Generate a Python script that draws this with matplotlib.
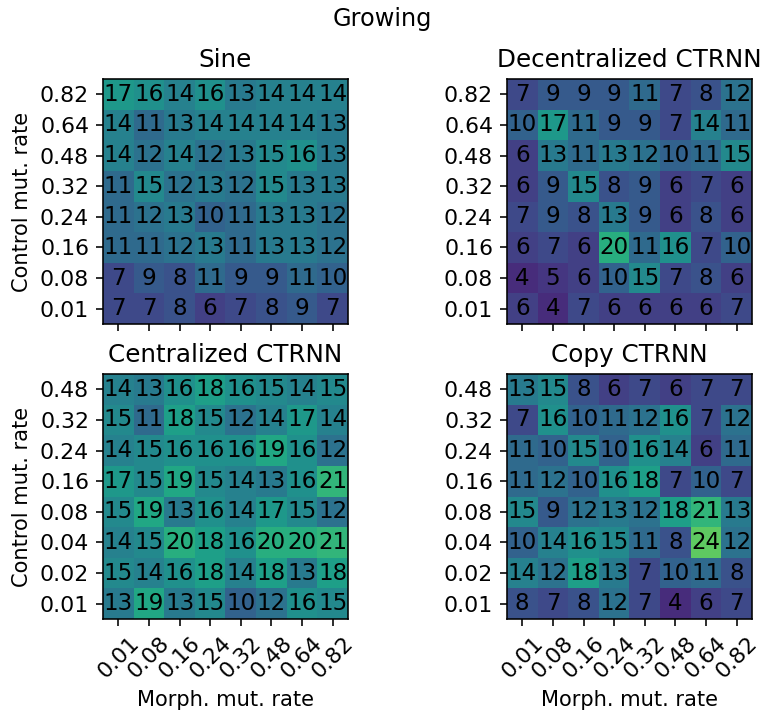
"""Growing: mutation-rate heatmaps for four controller types."""

import matplotlib

matplotlib.use("Agg")
import matplotlib.pyplot as plt
import numpy as np

MORPH_RATES = ["0.01", "0.08", "0.16", "0.24", "0.32", "0.48", "0.64", "0.82"]
CONTROL_RATES_TOP = ["0.01", "0.08", "0.16", "0.24", "0.32", "0.48", "0.64", "0.82"]
CONTROL_RATES_BOTTOM = ["0.01", "0.02", "0.04", "0.08", "0.16", "0.24", "0.32", "0.48"]

# rows listed top to bottom as displayed (highest control rate first)
SINE = [
    [17, 16, 14, 16, 13, 14, 14, 14],
    [14, 11, 13, 14, 14, 14, 14, 13],
    [14, 12, 14, 12, 13, 15, 16, 13],
    [11, 15, 12, 13, 12, 15, 13, 13],
    [11, 12, 13, 10, 11, 13, 13, 12],
    [11, 11, 12, 13, 11, 13, 13, 12],
    [7, 9, 8, 11, 9, 9, 11, 10],
    [7, 7, 8, 6, 7, 8, 9, 7],
]
DECENTRALIZED = [
    [7, 9, 9, 9, 11, 7, 8, 12],
    [10, 17, 11, 9, 9, 7, 14, 11],
    [6, 13, 11, 13, 12, 10, 11, 15],
    [6, 9, 15, 8, 9, 6, 7, 6],
    [7, 9, 8, 13, 9, 6, 8, 6],
    [6, 7, 6, 20, 11, 16, 7, 10],
    [4, 5, 6, 10, 15, 7, 8, 6],
    [6, 4, 7, 6, 6, 6, 6, 7],
]
CENTRALIZED = [
    [14, 13, 16, 18, 16, 15, 14, 15],
    [15, 11, 18, 15, 12, 14, 17, 14],
    [14, 15, 16, 16, 16, 19, 16, 12],
    [17, 15, 19, 15, 14, 13, 16, 21],
    [15, 19, 13, 16, 14, 17, 15, 12],
    [14, 15, 20, 18, 16, 20, 20, 21],
    [15, 14, 16, 18, 14, 18, 13, 18],
    [13, 19, 13, 15, 10, 12, 16, 15],
]
COPY = [
    [13, 15, 8, 6, 7, 6, 7, 7],
    [7, 16, 10, 11, 12, 16, 7, 12],
    [11, 10, 15, 10, 16, 14, 6, 11],
    [11, 12, 10, 16, 18, 7, 10, 7],
    [15, 9, 12, 13, 12, 18, 21, 13],
    [10, 14, 16, 15, 11, 8, 24, 12],
    [14, 12, 18, 13, 7, 10, 11, 8],
    [8, 7, 8, 12, 7, 4, 6, 7],
]

VMIN, VMAX = 0, 32
W, H, DPI = 765, 713, 144
TICK_FS = 11
CELL_FS = 11.5
TITLE_FS = 12.3
LABEL_FS = 10.5


def _panel(fig, rect, data, title, ylabels, show_x, show_ylabel):
    ax = fig.add_axes(rect)
    grid = np.flipud(np.array(data))
    ax.imshow(grid, cmap="viridis", vmin=VMIN, vmax=VMAX, origin="lower", aspect="auto")
    for i in range(grid.shape[0]):
        for j in range(grid.shape[1]):
            ax.text(j, i, str(grid[i, j]), ha="center", va="center",
                    color="black", fontsize=CELL_FS)
    ax.set_xticks(range(len(MORPH_RATES)))
    ax.set_yticks(range(len(ylabels)))
    ax.set_yticklabels(ylabels)
    ax.tick_params(labelsize=TICK_FS)
    if show_x:
        ax.set_xticklabels(MORPH_RATES, rotation=45)
        ax.set_xlabel("Morph. mut. rate", fontsize=LABEL_FS)
    else:
        ax.set_xticklabels([])
    if show_ylabel:
        ax.set_ylabel("Control mut. rate", fontsize=LABEL_FS)
    ax.set_title(title, fontsize=TITLE_FS)
    return ax


def main() -> None:
    fig = plt.figure(figsize=(W / DPI, H / DPI), dpi=DPI)

    def rect(x0, y0, x1, y1):
        return [x0 / W, 1 - y1 / H, (x1 - x0) / W, (y1 - y0) / H]

    _panel(fig, rect(103, 79, 348, 324), SINE, "Sine", CONTROL_RATES_TOP, False, True)
    _panel(fig, rect(507, 79, 752, 324), DECENTRALIZED, "Decentralized CTRNN",
           CONTROL_RATES_TOP, False, False)
    _panel(fig, rect(103, 374, 348, 619), CENTRALIZED, "Centralized CTRNN",
           CONTROL_RATES_BOTTOM, True, True)
    _panel(fig, rect(507, 374, 752, 619), COPY, "Copy CTRNN",
           CONTROL_RATES_BOTTOM, True, False)
    fig.suptitle("Growing", fontsize=12, y=1 - 7 / H)
    fig.savefig("out.png", dpi=DPI)
    plt.close(fig)


if __name__ == "__main__":
    main()
